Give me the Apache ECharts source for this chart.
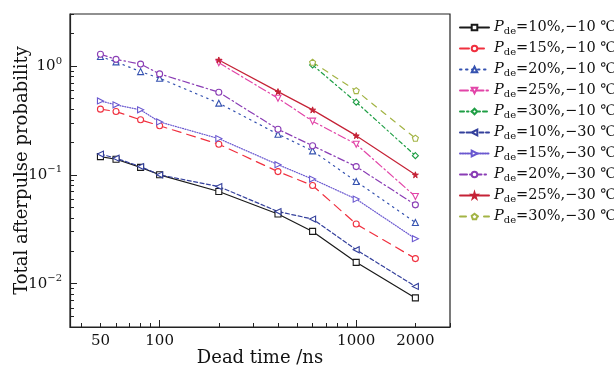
<!DOCTYPE html>
<html>
<head>
<meta charset="utf-8">
<script src="https://cdn.jsdelivr.net/npm/echarts@6/dist/echarts.min.js"></script>
<style>
  html, body { margin: 0; padding: 0; background: #fff; }
  #chart { width: 614px; height: 377px; }
</style>
</head>
<body>
<div id="chart"></div>
<script>
// dead time (ns) for each group of curves
const deadTime = [50, 60, 80, 100, 200, 400, 600, 1000, 2000];
const deadTimeMid = [200, 400, 600, 1000, 2000];
const deadTimeTop = [600, 1000, 2000];

// total afterpulse probability, -10 ℃
const p10m10 = [0.147, 0.139, 0.117, 0.100, 0.0703, 0.0436, 0.0302, 0.0157, 0.0074];
const p15m10 = [0.401, 0.381, 0.320, 0.282, 0.191, 0.107, 0.0798, 0.0353, 0.0170];
const p20m10 = [1.22, 1.09, 0.887, 0.771, 0.455, 0.236, 0.166, 0.0868, 0.0365];
const p25m10 = [1.07, 0.505, 0.311, 0.191, 0.0632];
const p30m10 = [1.02, 0.465, 0.150];

// total afterpulse probability, -30 ℃
const p10m30 = [0.155, 0.142, 0.119, 0.100, 0.078, 0.046, 0.0392, 0.0205, 0.00944];
const p15m30 = [0.477, 0.439, 0.395, 0.306, 0.215, 0.124, 0.0913, 0.0598, 0.0259];
const p20m30 = [1.28, 1.15, 1.04, 0.845, 0.574, 0.262, 0.185, 0.119, 0.053];
const p25m30 = [1.135, 0.581, 0.395, 0.229, 0.100];
const p30m30 = [1.08, 0.593, 0.217];

// ticks
const xLabels = [50, 100, 1000, 2000];
const xMajor = [100, 1000];
const xMinor = [40, 50, 60, 70, 80, 90, 200, 300, 400, 500, 600, 700, 800, 900, 2000, 3000];
const yMajor = [0.01, 0.1, 1];
const yMinor = [0.004, 0.005, 0.006, 0.007, 0.008, 0.009,
  0.02, 0.03, 0.04, 0.05, 0.06, 0.07, 0.08, 0.09,
  0.2, 0.3, 0.4, 0.5, 0.6, 0.7, 0.8, 0.9, 2, 3];

const FONT = '"DejaVu Serif", "Liberation Serif", serif';
const STAR = 'path://M50,0 L61,35 L98,35 L68,57 L79,91 L50,70 L21,91 L32,57 L2,35 L39,35 Z';
const PENTA = 'path://M50,4 L96,38 L78,92 L22,92 L4,38 Z';

const pair = (xs, ys) => xs.map((x, i) => [x, ys[i]]);

function makeSeries(name, xs, ys, color, dash, symbol, rotate, filled) {
  return {
    name: name,
    type: 'line',
    data: pair(xs, ys),
    symbol: symbol,
    symbolSize: 6,
    symbolRotate: rotate || 0,
    lineStyle: { color: color, width: 1.2, type: dash, cap: 'round' },
    itemStyle: filled
      ? { color: color, borderColor: color, borderWidth: 1 }
      : { color: '#fff', borderColor: color, borderWidth: 1.1 },
    emphasis: { disabled: true },
    z: 3
  };
}

const series = [
  makeSeries('10% -10', deadTime, p10m10, '#1a1a1a', 'solid', 'rect', 0, false),
  makeSeries('15% -10', deadTime, p15m10, '#f0303f', [9, 6], 'circle', 0, false),
  makeSeries('20% -10', deadTime, p20m10, '#3552b0', [1.5, 4.5], 'triangle', 0, false),
  makeSeries('25% -10', deadTimeMid, p25m10, '#e245a8', [8, 3, 1.5, 3], 'triangle', 180, false),
  makeSeries('30% -10', deadTimeTop, p30m10, '#1f9e45', [4, 3, 1.5, 3], 'diamond', 0, false),
  makeSeries('10% -30', deadTime, p10m30, '#34409c', [4, 2.5], 'triangle', 90, false),
  makeSeries('15% -30', deadTime, p15m30, '#6a58d0', [1, 1.5], 'triangle', -90, false),
  makeSeries('20% -30', deadTime, p20m30, '#8a3db5', [7, 3, 1.5, 3], 'circle', 0, false),
  makeSeries('25% -30', deadTimeMid, p25m30, '#c52236', 'solid', STAR, 0, true),
  makeSeries('30% -30', deadTimeTop, p30m30, '#a3b445', [6, 6], PENTA, 0, false)
];

function legendText(name) {
  const parts = name.split(' ');
  return '{p|P}{s|de}{t|=' + parts[0] + ',\u2212' + parts[1].slice(1) + ' \u2103}';
}

function yLabel(v) {
  const e = Math.round(Math.log10(v));
  return '{b|10}{e|' + (e < 0 ? '\u2212' + (-e) : e) + '}';
}

const baseAxisX = {
  type: 'log',
  min: 35,
  max: 3000,
  position: 'bottom',
  splitLine: { show: false },
  axisLine: { show: true, onZero: false, lineStyle: { color: '#222', width: 1.2 } }
};

const baseAxisY = {
  type: 'log',
  min: 0.004,
  max: 3,
  position: 'left',
  splitLine: { show: false },
  axisLine: { show: true, onZero: false, lineStyle: { color: '#222', width: 1.2 } }
};

const chart = echarts.init(document.getElementById('chart'));

chart.setOption({
  animation: false,
  backgroundColor: '#fff',
  textStyle: { fontFamily: FONT },
  grid: {
    left: 70, top: 14, right: 164, bottom: 50,
    outerBoundsMode: 'none',
    show: true, borderColor: '#222', borderWidth: 1.2, backgroundColor: 'transparent'
  },
  legend: {
    orient: 'vertical',
    left: 459,
    top: 20,
    padding: 0,
    itemWidth: 29,
    itemHeight: 7,
    itemGap: 5,
    data: series.map(s => s.name),
    formatter: legendText,
    textStyle: {
      color: '#111',
      fontFamily: FONT,
      rich: {
        p: { fontSize: 14.5, fontStyle: 'italic', fontFamily: FONT, lineHeight: 17, verticalAlign: 'middle' },
        s: { fontSize: 10, fontFamily: FONT, lineHeight: 10, verticalAlign: 'bottom' },
        t: { fontSize: 14.5, fontFamily: FONT, lineHeight: 17, verticalAlign: 'middle' }
      }
    },
    selectedMode: false
  },
  xAxis: [
    Object.assign({}, baseAxisX, {
      name: 'Dead time /ns',
      nameLocation: 'middle',
      nameGap: 22,
      nameMoveOverlap: false,
      nameTextStyle: { fontSize: 18, color: '#111', fontFamily: FONT },
      axisTick: { show: true, inside: true, length: 7, customValues: xMajor, lineStyle: { color: '#222' } },
      axisLabel: {
        customValues: xLabels, margin: 7, fontSize: 15, color: '#111', fontFamily: FONT,
        formatter: v => String(Math.round(v))
      }
    }),
    Object.assign({}, baseAxisX, {
      axisLine: { show: false },
      axisTick: { show: true, inside: true, length: 4, customValues: xMinor, lineStyle: { color: '#222' } },
      axisLabel: { show: false }
    })
  ],
  yAxis: [
    Object.assign({}, baseAxisY, {
      name: 'Total afterpulse probability',
      nameLocation: 'middle',
      nameGap: 39,
      nameMoveOverlap: false,
      nameTextStyle: { fontSize: 18, color: '#111', fontFamily: FONT },
      axisTick: { show: true, inside: true, length: 7, customValues: yMajor, lineStyle: { color: '#222' } },
      axisLabel: {
        customValues: yMajor, margin: 8, color: '#111', fontFamily: FONT,
        formatter: yLabel,
        rich: {
          b: { fontSize: 15, fontFamily: FONT, lineHeight: 20, verticalAlign: 'middle' },
          e: { fontSize: 10, fontFamily: FONT, lineHeight: 10, verticalAlign: 'top' }
        }
      }
    }),
    Object.assign({}, baseAxisY, {
      axisLine: { show: false },
      axisTick: { show: true, inside: true, length: 4, customValues: yMinor, lineStyle: { color: '#222' } },
      axisLabel: { show: false }
    })
  ],
  series: series
});
</script>
</body>
</html>
